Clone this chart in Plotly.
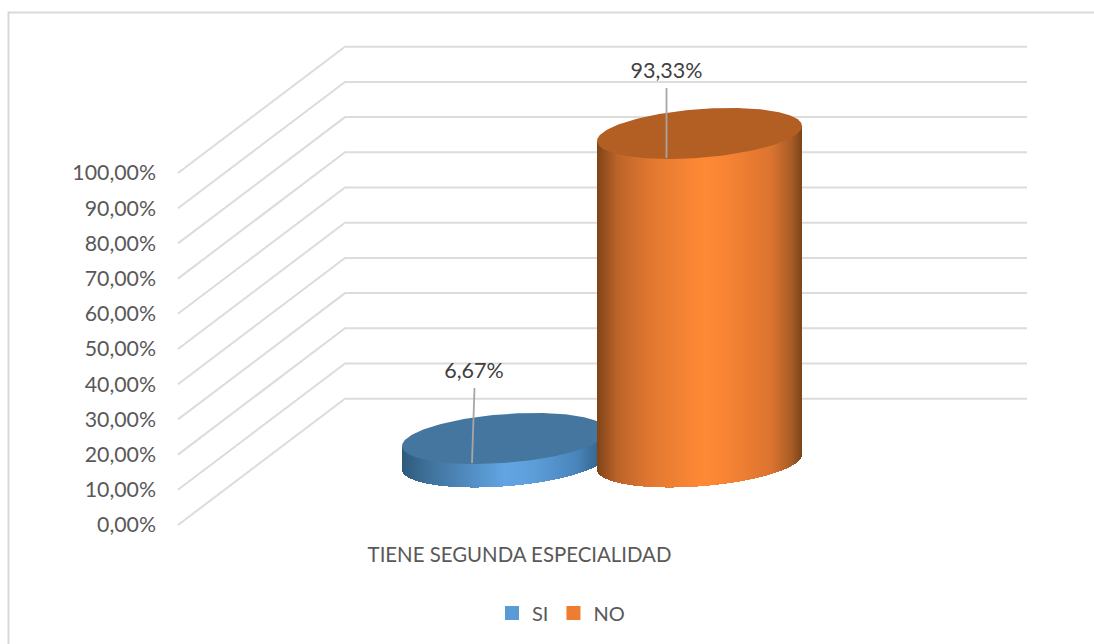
import numpy as np
import plotly.graph_objects as go

# ---- data ----
categories = ["SI", "NO"]
values = [6.67, 93.33]
value_labels = ["6,67%", "93,33%"]
axis_ticks = [0, 10, 20, 30, 40, 50, 60, 70, 80, 90, 100]
axis_tick_labels = ["0,00%", "10,00%", "20,00%", "30,00%", "40,00%", "50,00%",
                    "60,00%", "70,00%", "80,00%", "90,00%", "100,00%"]
axis_category = "TIENE SEGUNDA ESPECIALIDAD"

# ---- styling / projection ----
W, H = 1094, 644
FONT = "Lato, Carlito, Calibri, sans-serif"
PX_PER_UNIT = 3.52
ZERO_PY = 525.0
val = lambda py: (ZERO_PY - py) / PX_PER_UNIT
y_range = [val(H), val(0)]

WALL_X = [178, 345, 1027]
WALL_RISE = 126.3 / PX_PER_UNIT
FLOOR_LEVEL = val(462)                 # depth of the cylinders' base centre
CENTERS = [504.5, 699.5]
A, B, K = 102.5, 24.4, 7.5             # ellipse half-width, half-height, tilt (px)
LEADER_TOP = [(-30, -50.5), (-33, -45.5)]
LEADER_BOTTOM = [(-32.5, 24.5), (-33, 24.5)]
LABEL_OFF = [(-30.5, -66), (-33, -61)]
LEGEND_COLORS = ["#5B9BD5", "#ED7D31"]
CAP_COLORS = ["#44769F", "#B35E22"]
STOPS = [
    [(0, "#2E5A7C"), (.12, "#3F7099"), (.5, "#62A5E3"), (.62, "#5FA0DC"), (.85, "#4A86BD"), (1, "#2E5A7C")],
    [(0, "#7F4418"), (.1, "#BC652A"), (.27, "#E37931"), (.52, "#FF8A36"), (.62, "#F98534"), (.85, "#DC7430"), (.95, "#A85C26"), (1, "#7A4519")],
]


def hex2rgb(h):
    return np.array([int(h[i:i + 2], 16) for i in (1, 3, 5)], float)


def ramp(stops, f):
    xs = [s[0] for s in stops]
    cs = np.array([hex2rgb(s[1]) for s in stops])
    return ["rgb(%d,%d,%d)" % tuple(np.interp(p, xs, cs[:, i]) for i in range(3)) for p in f]


fig = go.Figure()

# wall and floor gridlines
gx, gy = [], []
for t in axis_ticks:
    gx += WALL_X + [None]
    gy += [t, t + WALL_RISE, t + WALL_RISE, None]
fig.add_trace(go.Scatter(x=gx, y=gy, mode="lines", line=dict(color="#DCDCDC", width=2),
                         hoverinfo="skip", showlegend=False))

# cylinders, each on its own overlaying axes so the NO one sits in front
for i, (cat, v) in enumerate(zip(categories, values)):
    ax = str(i + 2)
    xref, yref = "x" + ax, "y" + ax
    cx = CENTERS[i]
    px = np.arange(np.floor(cx - A), np.ceil(cx + A)) + 0.5
    c = np.clip((px - cx) / A, -1, 1)
    lower_py = -K * c + B * np.sqrt(1 - c ** 2)     # lower rim, px below the centre
    chord_py = -K * c
    top = FLOOR_LEVEL + v
    fig.add_trace(go.Bar(
        x=px, base=FLOOR_LEVEL - lower_py / PX_PER_UNIT,
        y=v + (lower_py - chord_py) / PX_PER_UNIT, width=1,
        marker=dict(color=ramp(STOPS[i], (c + 1) / 2), line=dict(width=0)),
        hoverinfo="skip", showlegend=False, xaxis=xref, yaxis=yref))
    t = np.linspace(0, 2 * np.pi, 241)
    fig.add_trace(go.Scatter(
        x=cx + A * np.cos(t),
        y=top + (K * np.cos(t) + B * np.sin(t)) / PX_PER_UNIT,
        mode="lines", fill="toself", fillcolor=CAP_COLORS[i], line=dict(width=0),
        hoverinfo="skip", showlegend=False, xaxis=xref, yaxis=yref))
    fig.add_trace(go.Scatter(
        x=[cx + LEADER_TOP[i][0], cx + LEADER_BOTTOM[i][0]],
        y=[top - LEADER_TOP[i][1] / PX_PER_UNIT, top - LEADER_BOTTOM[i][1] / PX_PER_UNIT],
        mode="lines", line=dict(color="#A6A6A6", width=1.8),
        hoverinfo="skip", showlegend=False, xaxis=xref, yaxis=yref))
    fig.add_trace(go.Scatter(
        x=[cx + LABEL_OFF[i][0]], y=[top - LABEL_OFF[i][1] / PX_PER_UNIT],
        mode="text", text=[value_labels[i]], textposition="middle center",
        textfont=dict(family=FONT, size=21.5, color="#404040"),
        hoverinfo="skip", showlegend=False, xaxis=xref, yaxis=yref))
    # legend swatch
    fig.add_trace(go.Bar(
        x=[None], y=[None], name=cat,
        marker=dict(color=LEGEND_COLORS[i], line=dict(color=LEGEND_COLORS[i], width=2)),
        xaxis=xref, yaxis=yref))

# category caption
fig.add_trace(go.Scatter(
    x=[519.5], y=[val(557)], mode="text", text=[axis_category], textposition="middle center",
    textfont=dict(family=FONT, size=20.4, color="#595959"), hoverinfo="skip", showlegend=False))

hidden_x = dict(range=[0, W], visible=False, fixedrange=True)
hidden_y = dict(range=y_range, visible=False, fixedrange=True)
fig.update_layout(
    width=W, height=H, autosize=False,
    margin=dict(l=0, r=0, t=0, b=0),
    paper_bgcolor="white", plot_bgcolor="rgba(0,0,0,0)",
    barmode="overlay", bargap=0,
    font=dict(family=FONT, size=20, color="#595959"),
    xaxis=dict(domain=[0, 1], **hidden_x),
    yaxis=dict(domain=[0, 1], range=y_range, anchor="free", position=156 / W,
               tickmode="array", tickvals=axis_ticks, ticktext=axis_tick_labels,
               showgrid=False, zeroline=False, showline=False, ticks="", fixedrange=True,
               tickfont=dict(family=FONT, size=21.3, color="#595959")),
    xaxis2=dict(overlaying="x", **hidden_x),
    yaxis2=dict(overlaying="y", anchor="x2", **hidden_y),
    xaxis3=dict(overlaying="x", **hidden_x),
    yaxis3=dict(overlaying="y", anchor="x3", **hidden_y),
    legend=dict(orientation="h", x=492 / W, xanchor="left", y=1 - 613 / H, yanchor="middle",
                font=dict(family=FONT, size=20, color="#595959"), bgcolor="rgba(0,0,0,0)",
                traceorder="normal"),
    shapes=[dict(type="path", xref="paper", yref="paper",
                 path=f"M {8.5 / W},0 L {8.5 / W},{1 - 12.5 / H} L 1,{1 - 12.5 / H}",
                 line=dict(color="#D9D9D9", width=2))],
)

fig.write_html("out.html", config={"displayModeBar": False},
               post_script="document.body.style.margin='0';document.body.style.overflow='hidden';")
